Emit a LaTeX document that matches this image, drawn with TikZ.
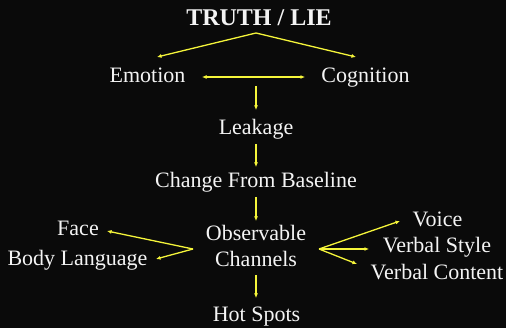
\documentclass[tikz,border=0pt]{standalone}
\usepackage{fontspec}
\setmainfont{Liberation Serif}
\usetikzlibrary{arrows.meta}
\definecolor{bgc}{HTML}{0A0A0A}
\definecolor{txt}{HTML}{F4F4F4}
\definecolor{arr}{HTML}{F5F53A}
\tikzset{
  lbl/.style={text=txt, inner sep=0pt, anchor=base, font=\fontsize{22}{24}\selectfont},
  ttl/.style={text=txt, inner sep=0pt, anchor=base, font=\bfseries\fontsize{24}{26}\selectfont},
  con/.style={draw=arr, line width=1.3pt, -{Latex[length=4.5pt,width=4pt]}},
  con2/.style={draw=arr, line width=1.3pt, {Latex[length=4.5pt,width=4pt]}-{Latex[length=4.5pt,width=4pt]}}
}
\begin{document}
\begin{tikzpicture}[x=1pt,y=-1pt]
\fill[bgc] (0,0) rectangle (506,328);
\useasboundingbox (0,0) rectangle (506,328);
% labels
\node[ttl] (truth) at (259,26) {TRUTH / LIE};
\node[lbl] (emo) at (147.5,83) {Emotion};
\node[lbl] (cog) at (365.5,83) {Cognition};
\node[lbl] (leak) at (256,135) {Leakage};
\node[lbl] (chg) at (256,188) {Change From Baseline};
\node[lbl] (obs1) at (256,241) {Observable};
\node[lbl] (obs2) at (256,267) {Channels};
\node[lbl] (hot) at (256.5,322) {Hot Spots};
\node[lbl] (face) at (78,236) {Face};
\node[lbl] (body) at (77.5,266) {Body Language};
\node[lbl] (voice) at (437.5,227) {Voice};
\node[lbl] (vstyle) at (437,253) {Verbal Style};
\node[lbl] (vcont) at (437,280) {Verbal Content};
% connector points
\coordinate (apex) at (256,33);
\coordinate (emoIn) at (157,57);
\coordinate (cogIn) at (356,57);
\coordinate (ecL) at (202,77);
\coordinate (ecR) at (305,77);
\coordinate (ecM) at (256,86);
\coordinate (leakIn) at (256,110);
\coordinate (leakOut) at (256,144);
\coordinate (chgIn) at (256,167);
\coordinate (chgOut) at (256,197);
\coordinate (obsIn) at (256,221);
\coordinate (jL) at (193,249);
\coordinate (faceIn) at (107,231);
\coordinate (bodyIn) at (156,259);
\coordinate (jR) at (319,249);
\coordinate (voiceIn) at (400,221);
\coordinate (vstyleIn) at (369,249);
\coordinate (vcontIn) at (357,264);
\coordinate (obsOut) at (256,275);
\coordinate (hotIn) at (256,298);
% connectors
\draw[con] (apex) -- (emoIn);
\draw[con] (apex) -- (cogIn);
\draw[con2] (ecL) -- (ecR);
\draw[con] (ecM) -- (leakIn);
\draw[con] (leakOut) -- (chgIn);
\draw[con] (chgOut) -- (obsIn);
\draw[con] (jL) -- (faceIn);
\draw[con] (jL) -- (bodyIn);
\draw[con] (jR) -- (voiceIn);
\draw[con] (jR) -- (vstyleIn);
\draw[con] (jR) -- (vcontIn);
\draw[con] (obsOut) -- (hotIn);
\end{tikzpicture}
\end{document}
